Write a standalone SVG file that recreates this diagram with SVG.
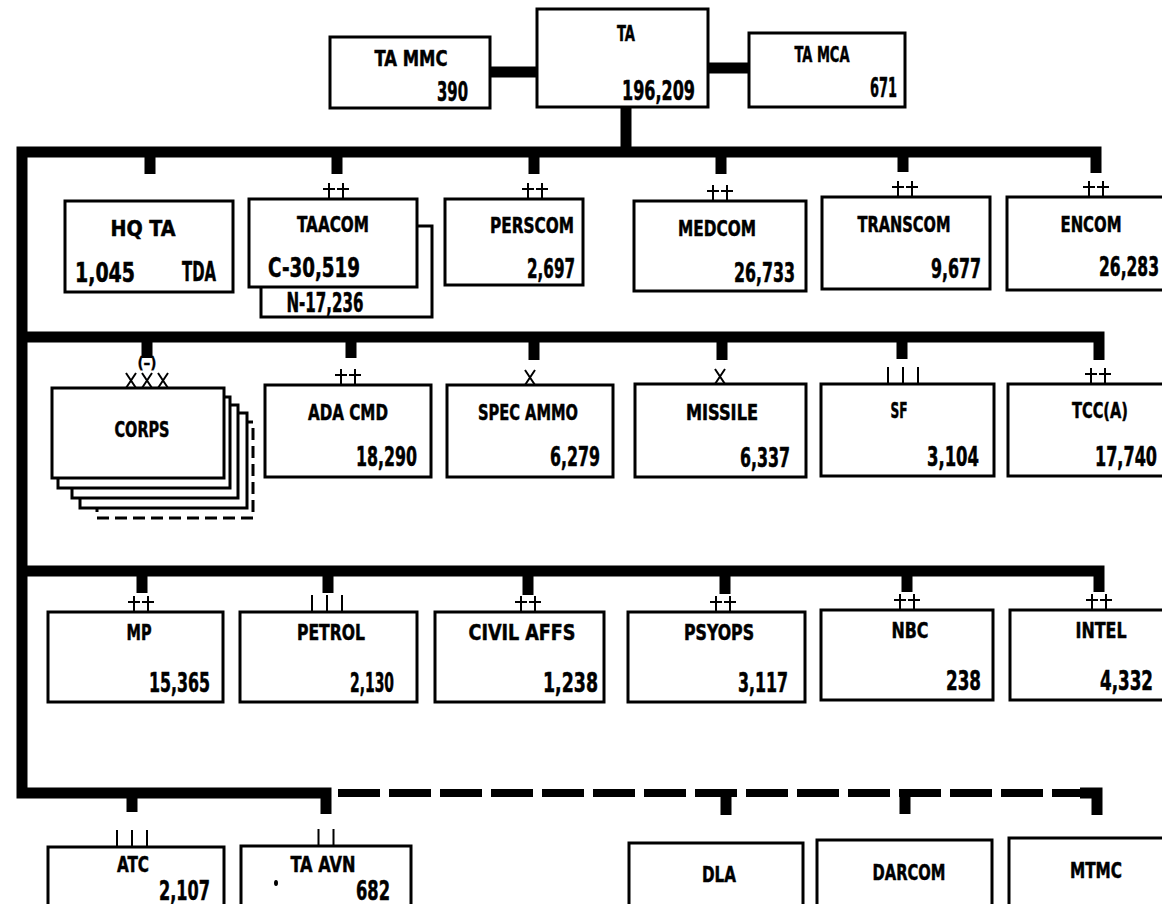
<svg xmlns="http://www.w3.org/2000/svg" xmlns:xlink="http://www.w3.org/1999/xlink" width="1162" height="904" viewBox="0 0 1162 904">
<style>
.box{fill:#fff;stroke:#000;stroke-width:3}
.dbox{fill:#fff;stroke:#000;stroke-width:3;stroke-dasharray:12 6}
.bus{fill:none;stroke:#000;stroke-width:11;stroke-linejoin:miter;stroke-linecap:butt}
.dash{fill:none;stroke:#000;stroke-width:8;stroke-dasharray:42 9}
.sym{fill:none;stroke:#000;stroke-width:2}
text{font-family:"Liberation Sans Narrow","DejaVu Sans Condensed","DejaVu Sans","Liberation Sans",sans-serif;font-weight:bold;fill:#000;stroke:#000;stroke-width:0.5}
.lb{font-size:22px}
.nm{font-size:26px}
.c{text-anchor:middle}
.r{text-anchor:end}
</style>
<defs>
<g id="pp"><path class="sym" d="M-7,-16V0M-13,-10H-1M7,-16V0M1,-10H13"/></g>
<g id="x1"><path class="sym" d="M-5,-15L5,0M5,-15L-5,0"/></g>
<g id="l3"><path class="sym" d="M-15,-17V0M0,-17V0M15,-17V0"/></g>
<g id="l2"><path class="sym" d="M-7.5,-17V0M7.5,-17V0"/></g>
</defs>

<g id="connectors">
<path class="bus" d="M490,72H537"/>
<path class="bus" d="M708,68H749"/>
<path class="bus" d="M626,107V152"/>
<path class="bus" d="M1096,173V152H22V793H326V814"/>
<path class="bus" d="M150,152V174M337,152V174M534,152V174M721,152V174M903,152V172"/>
<path class="bus" d="M1099,360V337H22"/>
<path class="bus" d="M147,337V358M351,337V358M534,337V360M722,337V360M902,337V359"/>
<path class="bus" d="M1099,592V571H22"/>
<path class="bus" d="M142,571V593M328,571V593M528,571V595M725,571V594M907,571V592"/>
<path class="bus" d="M132,793V812"/>
<path class="dash" d="M338,793H1080"/>
<path class="bus" d="M726,793V815M905,793V814M1080,793H1097V815"/>
</g>

<g id="n-tammc"><rect class="box" x="330" y="37" width="160" height="71"/><text class="lb c" x="411" y="66" textLength="73" lengthAdjust="spacingAndGlyphs">TA MMC</text><text class="nm r" x="468" y="101" textLength="31" lengthAdjust="spacingAndGlyphs">390</text></g>
<g id="n-ta"><rect class="box" x="537" y="9" width="171" height="98"/><text class="lb c" x="626" y="41" textLength="18" lengthAdjust="spacingAndGlyphs">TA</text><text class="nm r" x="695" y="100" textLength="73" lengthAdjust="spacingAndGlyphs">196,209</text></g>
<g id="n-tamca"><rect class="box" x="749" y="33" width="156" height="74"/><text class="lb c" x="822" y="62" textLength="55" lengthAdjust="spacingAndGlyphs">TA MCA</text><text class="nm r" x="897" y="97" textLength="27" lengthAdjust="spacingAndGlyphs">671</text></g>

<g id="n-hqta"><rect class="box" x="65" y="201" width="168" height="91"/><text class="lb c" x="143" y="236" textLength="65" lengthAdjust="spacingAndGlyphs">HQ TA</text><text class="nm" x="75" y="282" textLength="60" lengthAdjust="spacingAndGlyphs">1,045</text><text class="nm r" x="216" y="281" textLength="34" lengthAdjust="spacingAndGlyphs">TDA</text></g>
<g id="n-taacom"><rect class="box" x="261" y="226" width="171" height="91"/><rect class="box" x="249" y="199" width="168" height="88"/><use xlink:href="#pp" x="336" y="199"/><text class="lb c" x="333" y="232" textLength="72" lengthAdjust="spacingAndGlyphs">TAACOM</text><text class="nm" x="268" y="277" textLength="92" lengthAdjust="spacingAndGlyphs">C-30,519</text><text class="nm c" x="325" y="312" textLength="77" lengthAdjust="spacingAndGlyphs">N-17,236</text></g>
<g id="n-perscom"><rect class="box" x="445" y="199" width="138" height="86"/><use xlink:href="#pp" x="535" y="199"/><text class="lb c" x="532" y="233" textLength="84" lengthAdjust="spacingAndGlyphs">PERSCOM</text><text class="nm r" x="575" y="278" textLength="48" lengthAdjust="spacingAndGlyphs">2,697</text></g>
<g id="n-medcom"><rect class="box" x="634" y="201" width="172" height="90"/><use xlink:href="#pp" x="720" y="201"/><text class="lb c" x="717" y="236" textLength="78" lengthAdjust="spacingAndGlyphs">MEDCOM</text><text class="nm r" x="795" y="282" textLength="61" lengthAdjust="spacingAndGlyphs">26,733</text></g>
<g id="n-transcom"><rect class="box" x="822" y="197" width="168" height="92"/><use xlink:href="#pp" x="905" y="197"/><text class="lb c" x="904" y="232" textLength="93" lengthAdjust="spacingAndGlyphs">TRANSCOM</text><text class="nm r" x="981" y="278" textLength="50" lengthAdjust="spacingAndGlyphs">9,677</text></g>
<g id="n-encom"><rect class="box" x="1007" y="197" width="170" height="93"/><use xlink:href="#pp" x="1096" y="197"/><text class="lb c" x="1091" y="232" textLength="61" lengthAdjust="spacingAndGlyphs">ENCOM</text><text class="nm r" x="1159" y="276" textLength="60" lengthAdjust="spacingAndGlyphs">26,283</text></g>

<g id="n-corps">
<rect class="dbox" x="97" y="422" width="156" height="96"/>
<rect class="box" x="80" y="413" width="167" height="95"/>
<rect class="box" x="72" y="405" width="166" height="93"/>
<rect class="box" x="58" y="397" width="172" height="91"/>
<rect class="box" x="52" y="388" width="172" height="90"/>
<use xlink:href="#x1" x="131" y="388"/><use xlink:href="#x1" x="147" y="388"/><use xlink:href="#x1" x="163" y="388"/>
<text class="c" x="147" y="368" font-size="15" style="stroke-width:0.3">(–)</text>
<text class="lb c" x="142" y="437" textLength="55" lengthAdjust="spacingAndGlyphs">CORPS</text>
</g>
<g id="n-adacmd"><rect class="box" x="265" y="385" width="166" height="92"/><use xlink:href="#pp" x="348" y="385"/><text class="lb c" x="348" y="420" textLength="80" lengthAdjust="spacingAndGlyphs">ADA CMD</text><text class="nm r" x="417" y="466" textLength="61" lengthAdjust="spacingAndGlyphs">18,290</text></g>
<g id="n-specammo"><rect class="box" x="447" y="385" width="166" height="92"/><use xlink:href="#x1" x="530" y="385"/><text class="lb c" x="528" y="420" textLength="100" lengthAdjust="spacingAndGlyphs">SPEC AMMO</text><text class="nm r" x="600" y="466" textLength="50" lengthAdjust="spacingAndGlyphs">6,279</text></g>
<g id="n-missile"><rect class="box" x="635" y="384" width="171" height="93"/><use xlink:href="#x1" x="720" y="384"/><text class="lb c" x="722" y="420" textLength="72" lengthAdjust="spacingAndGlyphs">MISSILE</text><text class="nm r" x="790" y="467" textLength="50" lengthAdjust="spacingAndGlyphs">6,337</text></g>
<g id="n-sf"><rect class="box" x="821" y="384" width="173" height="92"/><use xlink:href="#l3" x="903" y="384"/><text class="lb c" x="899" y="418" textLength="17" lengthAdjust="spacingAndGlyphs">SF</text><text class="nm r" x="979" y="466" textLength="52" lengthAdjust="spacingAndGlyphs">3,104</text></g>
<g id="n-tcca"><rect class="box" x="1008" y="384" width="170" height="92"/><use xlink:href="#pp" x="1098" y="384"/><text class="lb c" x="1100" y="418" textLength="56" lengthAdjust="spacingAndGlyphs">TCC(A)</text><text class="nm r" x="1157" y="466" textLength="62" lengthAdjust="spacingAndGlyphs">17,740</text></g>

<g id="n-mp"><rect class="box" x="48" y="612" width="175" height="90"/><use xlink:href="#pp" x="141" y="612"/><text class="lb c" x="139" y="640" textLength="25" lengthAdjust="spacingAndGlyphs">MP</text><text class="nm r" x="210" y="692" textLength="61" lengthAdjust="spacingAndGlyphs">15,365</text></g>
<g id="n-petrol"><rect class="box" x="240" y="612" width="177" height="90"/><use xlink:href="#l3" x="327" y="612"/><text class="lb c" x="331" y="640" textLength="68" lengthAdjust="spacingAndGlyphs">PETROL</text><text class="nm r" x="394" y="692" textLength="44" lengthAdjust="spacingAndGlyphs">2,130</text></g>
<g id="n-civilaffs"><rect class="box" x="435" y="612" width="169" height="90"/><use xlink:href="#pp" x="528" y="612"/><text class="lb c" x="522" y="640" textLength="107" lengthAdjust="spacingAndGlyphs">CIVIL AFFS</text><text class="nm r" x="598" y="692" textLength="55" lengthAdjust="spacingAndGlyphs">1,238</text></g>
<g id="n-psyops"><rect class="box" x="628" y="612" width="177" height="90"/><use xlink:href="#pp" x="723" y="612"/><text class="lb c" x="719" y="640" textLength="70" lengthAdjust="spacingAndGlyphs">PSYOPS</text><text class="nm r" x="788" y="692" textLength="50" lengthAdjust="spacingAndGlyphs">3,117</text></g>
<g id="n-nbc"><rect class="box" x="821" y="610" width="172" height="90"/><use xlink:href="#pp" x="907" y="610"/><text class="lb c" x="910" y="638" textLength="37" lengthAdjust="spacingAndGlyphs">NBC</text><text class="nm r" x="981" y="690" textLength="35" lengthAdjust="spacingAndGlyphs">238</text></g>
<g id="n-intel"><rect class="box" x="1010" y="610" width="170" height="90"/><use xlink:href="#pp" x="1099" y="610"/><text class="lb c" x="1101" y="638" textLength="51" lengthAdjust="spacingAndGlyphs">INTEL</text><text class="nm r" x="1153" y="690" textLength="53" lengthAdjust="spacingAndGlyphs">4,332</text></g>

<g id="n-atc"><rect class="box" x="48" y="847" width="176" height="70"/><use xlink:href="#l3" x="132" y="847"/><text class="lb c" x="133" y="872" textLength="32" lengthAdjust="spacingAndGlyphs">ATC</text><text class="nm r" x="210" y="900" textLength="51" lengthAdjust="spacingAndGlyphs">2,107</text></g>
<g id="n-taavn"><rect class="box" x="241" y="846" width="170" height="70"/><use xlink:href="#l2" x="326" y="846"/><text class="lb c" x="323" y="872" textLength="65" lengthAdjust="spacingAndGlyphs">TA AVN</text><ellipse cx="276" cy="883" rx="2" ry="3"/><text class="nm r" x="390" y="900" textLength="34" lengthAdjust="spacingAndGlyphs">682</text></g>
<g id="n-dla"><rect class="box" x="629" y="843" width="174" height="75"/><text class="lb c" x="719" y="882" textLength="34" lengthAdjust="spacingAndGlyphs">DLA</text></g>
<g id="n-darcom"><rect class="box" x="817" y="840" width="175" height="78"/><text class="lb c" x="909" y="880" textLength="73" lengthAdjust="spacingAndGlyphs">DARCOM</text></g>
<g id="n-mtmc"><rect class="box" x="1009" y="838" width="170" height="80"/><text class="lb c" x="1096" y="878" textLength="52" lengthAdjust="spacingAndGlyphs">MTMC</text></g>
</svg>
